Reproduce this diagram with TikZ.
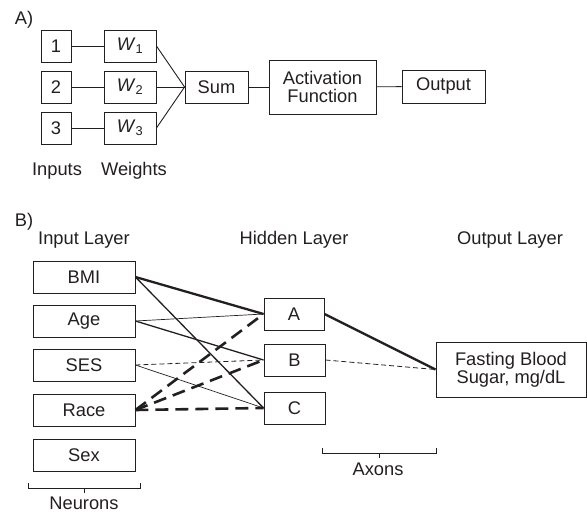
\documentclass[tikz,border=0pt]{standalone}
\usepackage{fontspec}
\setmainfont{Liberation Sans}
\definecolor{ink}{RGB}{35,31,32}
\begin{document}
\begin{tikzpicture}[x=1pt,y=-1pt,
  every node/.style={text=ink,font=\fontsize{18.3}{20}\selectfont},
  box/.style={draw=ink,line width=0.9pt,minimum height=32pt,inner sep=0pt,align=center},
  conn/.style={draw=ink,line width=0.9pt},
  thickw/.style={draw=ink,line width=2.3pt},
  medw/.style={draw=ink,line width=1.3pt},
  thinw/.style={draw=ink,line width=0.7pt},
  thickdash/.style={draw=ink,line width=2.6pt,dash pattern=on 13pt off 7pt},
  thindash/.style={draw=ink,line width=0.8pt,dash pattern=on 5pt off 3pt},
  lbl/.style={inner sep=0pt}]
\useasboundingbox (0,0) rectangle (587,512);
% Part A
\node[lbl] (labA) at (24,20) {A)};
\node[box,minimum width=30pt] (i1) at (56,46) {1};
\node[box,minimum width=30pt] (i2) at (56,87) {2};
\node[box,minimum width=30pt] (i3) at (56,128) {3};
\node[box,minimum width=52pt] (w1) at (130,46) {\textit{W}\textsubscript{1}};
\node[box,minimum width=52pt] (w2) at (130,87) {\textit{W}\textsubscript{2}};
\node[box,minimum width=52pt] (w3) at (130,128) {\textit{W}\textsubscript{3}};
\node[box,minimum width=63pt] (sum) at (216.5,87) {Sum};
\node[box,minimum width=107pt,minimum height=54pt] (af) at (322.5,87) {Activation\\[-2pt]Function};
\node[box,minimum width=83pt,minimum height=33pt] (out) at (443.5,86.5) {Output};
\node[lbl] (inputs) at (57,171) {Inputs};
\node[lbl] (weights) at (134,171) {Weights};
\draw[conn] (i1) -- (w1);
\draw[conn] (i2) -- (w2);
\draw[conn] (i3) -- (w3);
\draw[conn] (w1.east) -- (sum.west);
\draw[conn] (w2.east) -- (sum.west);
\draw[conn] (w3.east) -- (sum.west);
\draw[conn] (sum) -- (af);
\draw[conn] (af) -- (out);
% Part B
\node[lbl] (labB) at (24,222) {B)};
\node[lbl] (inl) at (84,240) {Input Layer};
\node[lbl] (hidl) at (294,240) {Hidden Layer};
\node[lbl] (outl) at (510,240) {Output Layer};
\node[box,minimum width=102pt] (bmi) at (84,277) {BMI};
\node[box,minimum width=102pt] (age) at (84,321) {Age};
\node[box,minimum width=102pt] (ses) at (84,365) {SES};
\node[box,minimum width=102pt] (race) at (84,410) {Race};
\node[box,minimum width=102pt] (sex) at (84,455) {Sex};
\node[box,minimum width=60pt] (hA) at (294,314) {A};
\node[box,minimum width=61pt] (hB) at (294.5,360) {B};
\node[box,minimum width=61pt] (hC) at (294.5,408) {C};
\node[box,minimum width=150pt,minimum height=55pt] (fbs) at (511,369.5) {Fasting Blood\\[-2pt]Sugar, mg/dL};
% connections
\draw[thickw] (bmi.east) -- (hA.west);
\draw[medw] (bmi.east) -- (hC.west);
\draw[thinw] (age.east) -- (hA.west);
\draw[medw] (age.east) -- (hB.west);
\draw[thindash] (ses.east) -- (hB.west);
\draw[thinw] (ses.east) -- (hC.west);
\draw[thickdash] (race.east) -- (hA.west);
\draw[thickdash] (race.east) -- (hB.west);
\draw[thickdash] (race.east) -- (hC.west);
\draw[thickw] (hA.east) -- (fbs.west);
\draw[thindash] (hB.east) -- (fbs.west);
% braces
\coordinate (n1) at (28,483);
\draw[conn] (n1) -- ++(0,5) -- ++(112,0) -- ++(0,-5);
\draw[conn] (84,488) -- (84,493);
\node[lbl] (neurons) at (84,503) {Neurons};
\coordinate (a1) at (322,448);
\draw[conn] (a1) -- ++(0,5) -- ++(114,0) -- ++(0,-5);
\draw[conn] (379,453) -- (379,458);
\node[lbl] (axons) at (378,469) {Axons};
\end{tikzpicture}
\end{document}
